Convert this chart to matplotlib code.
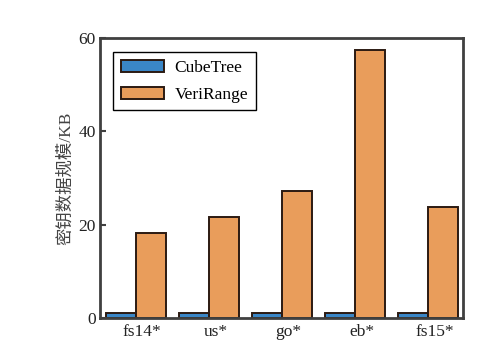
import numpy as np
import matplotlib.pyplot as plt

# data
datasets = ['fs14*', 'us*', 'go*', 'eb*', 'fs15*']
cubetree = [1.0, 1.0, 1.0, 1.0, 1.0]
verirange = [18.3, 21.7, 27.2, 57.4, 23.8]

plt.rcParams['font.family'] = ['Liberation Serif', 'Noto Sans CJK SC']

fig = plt.figure(figsize=(4.9, 3.57), dpi=100)
ax = fig.add_axes([0.204, 0.109, 0.741, 0.785])

x = np.arange(len(datasets))
w = 0.41
edge = '#2b1a12'
ax.bar(x - w / 2, cubetree, w, color='#3a86c6', edgecolor=edge, linewidth=1.4, label='CubeTree')
ax.bar(x + w / 2, verirange, w, color='#e99d5b', edgecolor=edge, linewidth=1.4, label='VeriRange')

ax.set_xlim(-0.49, 4.48)
ax.set_ylim(0, 60)
ax.set_yticks([0, 20, 40, 60])
ax.set_xticks(x + 0.09)
ax.set_xticklabels(datasets)
ax.tick_params(axis='x', length=0, labelsize=12.5, colors='#222222', pad=4)
ax.tick_params(axis='y', direction='in', length=4, width=1.5, color='#404040',
               labelsize=12.5, labelcolor='#222222', pad=3)

for s in ax.spines.values():
    s.set_linewidth(2)
    s.set_color('#404040')

ax.set_ylabel('密钥数据规模/KB', fontsize=12.5, color='#444444', labelpad=3)

leg = ax.legend(loc='upper left', fontsize=12.5, fancybox=False, framealpha=1,
                edgecolor='black', handlelength=2.5, handleheight=0.7,
                borderpad=0.45, labelspacing=0.6, handletextpad=0.6,
                bbox_to_anchor=(0.012, 0.98))
leg.get_frame().set_linewidth(1.0)

fig.savefig('out.png', dpi=100)
